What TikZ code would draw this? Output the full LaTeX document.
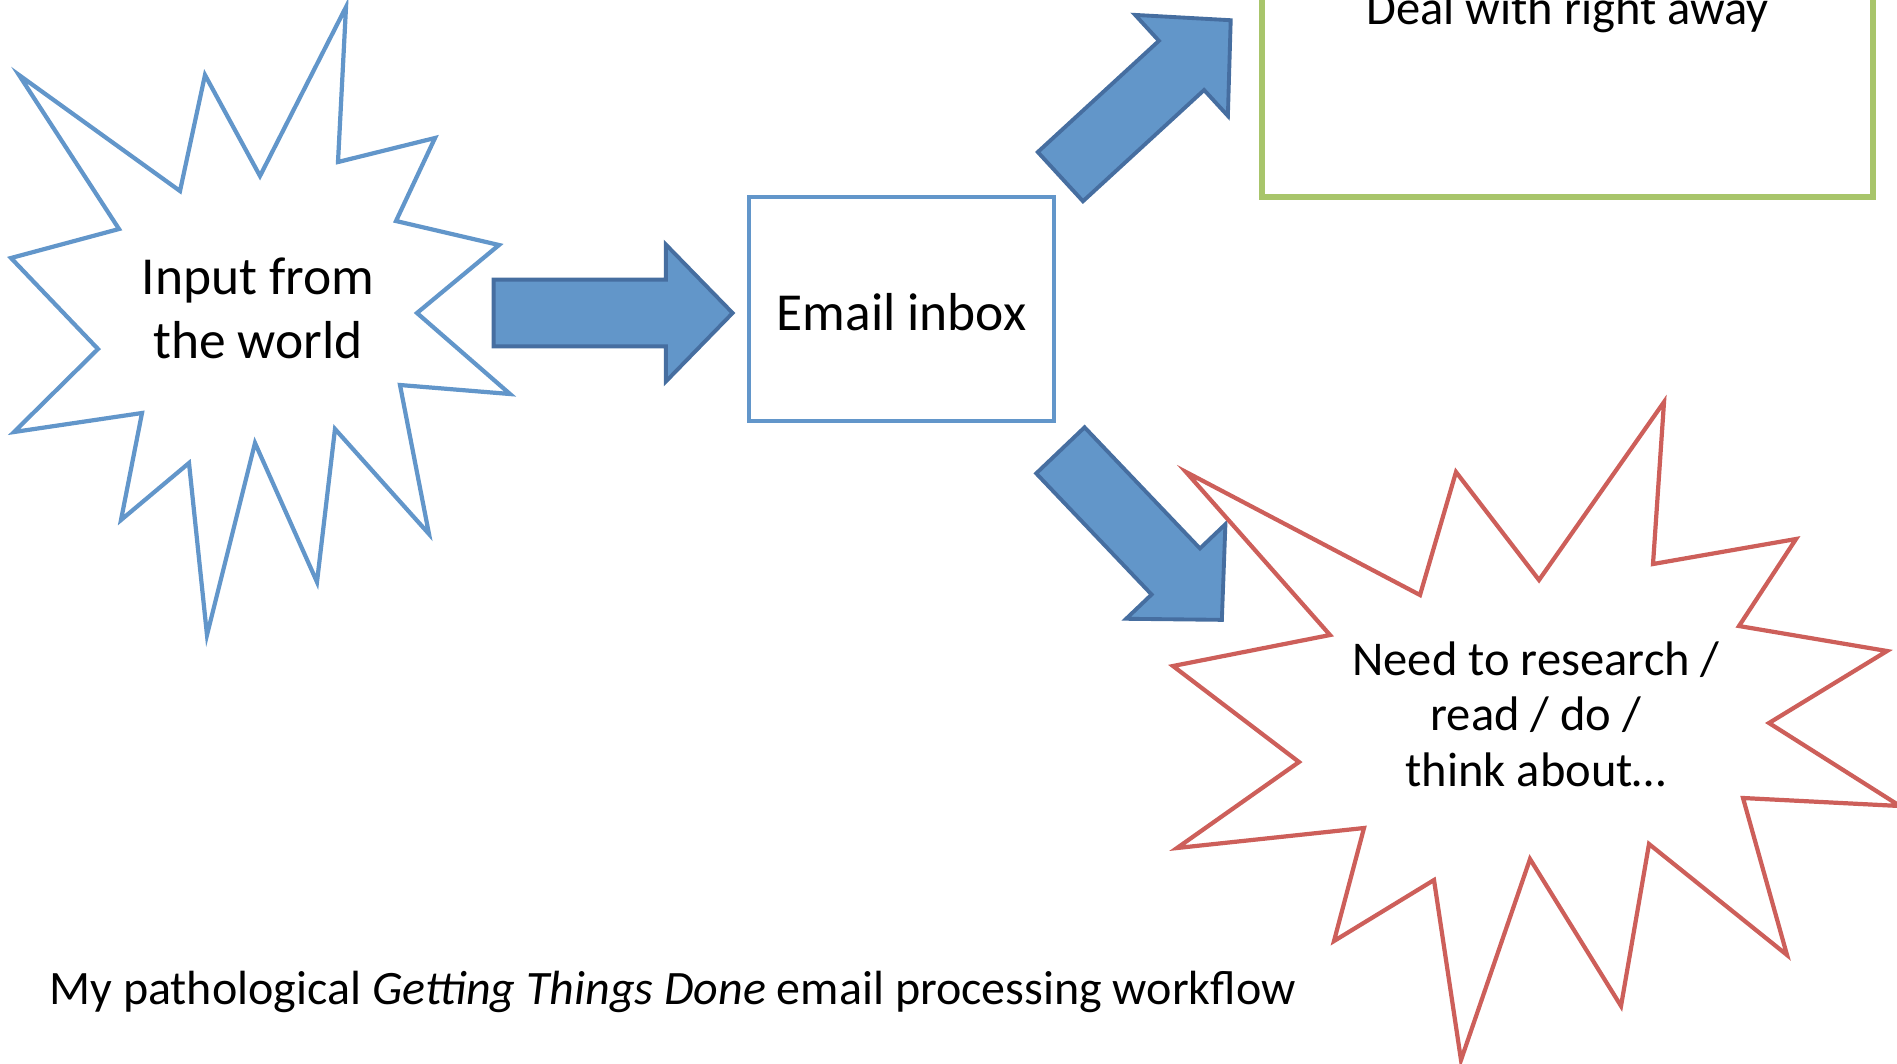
\documentclass[tikz,border=0pt]{standalone}
\usepackage{fontspec}
\setmainfont{Carlito}
\usetikzlibrary{calc}

\definecolor{arrowfill}{RGB}{98,150,201}
\definecolor{arrowedge}{RGB}{70,110,160}
\definecolor{burstblue}{RGB}{98,150,202}
\definecolor{burstred}{RGB}{205,95,90}
\definecolor{boxgreen}{RGB}{168,197,107}

\begin{document}
\begin{tikzpicture}[x=0.01cm, y=-0.01cm,
        burst/.style={line width=1.2pt, line join=miter},
        big/.style={font=\fontsize{15.2}{18.2}\selectfont, align=center},
        small/.style={font=\fontsize{13.8}{15.8}\selectfont, align=center},
        fatarrow/.style={draw=arrowedge, fill=arrowfill, line width=1.1pt, line join=miter,
            to path={let \p1=($(\tikztotarget)-(\tikztostart)$), \n1={atan2(\y1,\x1)}, \n2={veclen(\x1,\y1)} in
                ([shift={(\tikztostart)}, rotate=\n1] 0pt,9.5pt)
                -- ([shift={(\tikztostart)}, rotate=\n1] {\n2*1pt-19pt},9.5pt)
                -- ([shift={(\tikztostart)}, rotate=\n1] {\n2*1pt-19pt},19.5pt)
                -- ([shift={(\tikztostart)}, rotate=\n1] {\n2*1pt},0pt)
                -- ([shift={(\tikztostart)}, rotate=\n1] {\n2*1pt-19pt},-19.5pt)
                -- ([shift={(\tikztostart)}, rotate=\n1] {\n2*1pt-19pt},-9.5pt)
                -- ([shift={(\tikztostart)}, rotate=\n1] 0pt,-9.5pt)
                -- cycle}}]
                        \useasboundingbox (0,0) rectangle (1897,1063);
                        \clip (0,0) rectangle (1897,1063);

                        \node [big, draw=burstblue, line width=1.3pt, text height=12pt, text depth=0pt,
                            minimum width=3.05cm, minimum height=2.24cm] (inbox) at (901.5,309) {Email inbox};
                        \node [small, draw=boxgreen, line width=1.7pt, minimum width=6.11cm, minimum height=3.71cm] (deal) at (1567.5,11.5) {Deal with right away};

                        \coordinate (r0) at ($(inbox.west)+(-253,4)$);
                        \coordinate (r1) at ($(inbox.west)+(-14,4)$);
                        \coordinate (u0) at ($(inbox.north east)+(4,-18)$);
                        \coordinate (u1) at ($(deal.south west)+(-28,-180)$);
                        \coordinate (d0) at ($(inbox.south east)+(4,27)$);
                        \coordinate (d1) at (1222,620);
                        \draw [fatarrow] (r0) to (r1);
                        \draw [fatarrow] (u0) to (u1);
                        \draw [fatarrow] (d0) to (d1);

                        \draw [burst, draw=burstblue] (346,7) -- (338,162) -- (435,138) -- (396,221) -- (499,245) -- (417,313)
                            -- (510,394) -- (400,385) -- (429,534) -- (335,429) -- (317,582) -- (255,443) -- (207,635)
                            -- (189,463) -- (121,520) -- (142,413) -- (14,432) -- (98,349) -- (11,258) -- (119,229)
                            -- (19,75) -- (180,191) -- (205,75) -- (260,176) -- cycle;
                        \draw [burst, draw=burstred] (1186,472) -- (1420,595) -- (1456,472) -- (1539,580) -- (1664,402) -- (1653,564)
                            -- (1796,539) -- (1739,626) -- (1887,651) -- (1769,723) -- (1900,806) -- (1743,798) -- (1787,955)
                            -- (1649,844) -- (1621,1006) -- (1530,859) -- (1461,1060) -- (1434,880) -- (1334,941) -- (1364,828)
                            -- (1177,848) -- (1299,762) -- (1173,666) -- (1330,635) -- cycle;

                        \node [big] (world) at (258,308) {Input from\\the world};
                        \node [small] (todo) at (1536,714) {Need to research /\\read / do /\\think about…};
                        \node [small, font=\fontsize{13.65}{15.8}\selectfont, anchor=base west] (caption) at (37,1004) {My pathological \textit{Getting Things Done} email processing workflow};
                    \end{tikzpicture}
\end{document}
